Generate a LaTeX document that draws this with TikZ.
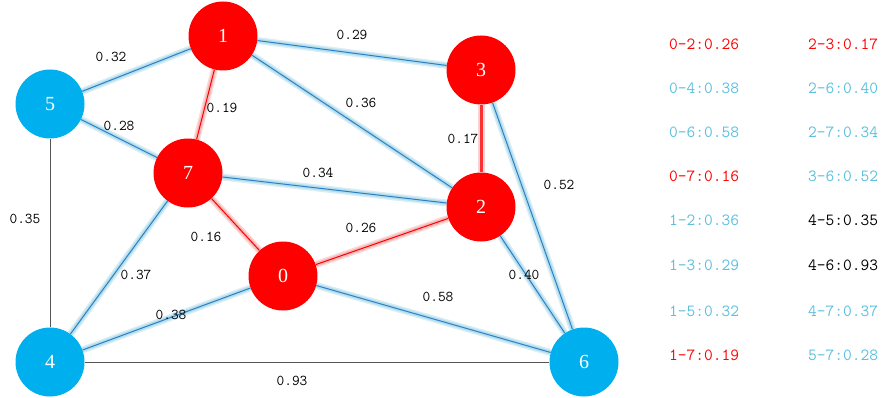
\documentclass[tikz,border=0pt]{standalone}
\usepackage{fontspec}
\setmainfont{Liberation Serif}
\usetikzlibrary{backgrounds}
\definecolor{nred}{HTML}{FF0000}
\definecolor{nblue}{HTML}{00B0EE}
\definecolor{eblue}{HTML}{2A80C4}
\definecolor{gblue}{HTML}{9ED3E6}
\definecolor{gred}{HTML}{F2A0A0}
\definecolor{lgblue}{HTML}{5BBFDE}
\definecolor{egray}{HTML}{555555}
\tikzset{
  vert/.style={circle, minimum size=69pt, inner sep=0pt, text=white, font=\fontsize{20}{20}\selectfont},
  rv/.style={vert, fill=nred},
  bv/.style={vert, fill=nblue},
  bedge/.style={draw=gblue, line width=7pt, opacity=0.4, postaction={draw=gblue, line width=4pt, opacity=0.6}, postaction={draw=eblue, line width=1pt, opacity=1}},
  redge/.style={draw=gred, line width=7pt, opacity=0.4, postaction={draw=gred, line width=4pt, opacity=0.6}, postaction={draw=nred, line width=1pt, opacity=1}},
  rthick/.style={draw=gred, line width=7pt, opacity=0.45, postaction={draw=nred!70!gred, line width=3pt, opacity=1}},
  gedge/.style={draw=egray, line width=1pt},
  wl/.style={font=\ttfamily\fontsize{15}{15}\selectfont, text=black, inner sep=0pt},
  lg/.style={font=\ttfamily\fontsize{17}{17}\selectfont, anchor=west, inner sep=0pt},
}
\begin{document}
\begin{tikzpicture}[x=1pt,y=-1pt]
\useasboundingbox (0,0) rectangle (893,398);
\node[rv] (n0) at (283,276) {0};
\node[rv] (n1) at (223,36) {1};
\node[rv] (n2) at (481,207) {2};
\node[rv] (n3) at (481,70) {3};
\node[bv] (n4) at (50,362) {4};
\node[bv] (n5) at (50,104) {5};
\node[bv] (n6) at (584,362) {6};
\node[rv] (n7) at (188,173) {7};
\begin{pgfonlayer}{background}
\path[redge] (n0) -- (n2);
\path[bedge] (n0) -- (n4);
\path[bedge] (n0) -- (n6);
\path[redge] (n0) -- (n7);
\path[bedge] (n1) -- (n2);
\path[bedge] (n1) -- (n3);
\path[bedge] (n1) -- (n5);
\path[redge] (n1) -- (n7);
\path[rthick] (n2) -- (n3);
\path[bedge] (n2) -- (n6);
\path[bedge] (n2) -- (n7);
\path[bedge] (n3) -- (n6);
\path[gedge] (n4) -- (n5);
\path[gedge] (n4) -- (n6);
\path[bedge] (n4) -- (n7);
\path[bedge] (n5) -- (n7);
\end{pgfonlayer}
\node[wl] (w15) at (111,57) {0.32};
\node[wl] (w13) at (352,35) {0.29};
\node[wl] (w17) at (222,108) {0.19};
\node[wl] (w57) at (119,126) {0.28};
\node[wl] (w12) at (361,103) {0.36};
\node[wl] (w23) at (463,139) {0.17};
\node[wl] (w27) at (318,173) {0.34};
\node[wl] (w36) at (559,185) {0.52};
\node[wl] (w45) at (25,219) {0.35};
\node[wl] (w07) at (206,237) {0.16};
\node[wl] (w02) at (361,228) {0.26};
\node[wl] (w47) at (136,275) {0.37};
\node[wl] (w26) at (524,275) {0.40};
\node[wl] (w06) at (438,297) {0.58};
\node[wl] (w04) at (171,315) {0.38};
\node[wl] (w46) at (292,381) {0.93};
% legend
\node[lg, text=nred] (l1) at (669,44) {0-2:0.26};
\node[lg, text=lgblue] (l2) at (669,88) {0-4:0.38};
\node[lg, text=lgblue] (l3) at (669,132) {0-6:0.58};
\node[lg, text=nred] (l4) at (669,176) {0-7:0.16};
\node[lg, text=lgblue] (l5) at (669,220) {1-2:0.36};
\node[lg, text=lgblue] (l6) at (669,265) {1-3:0.29};
\node[lg, text=lgblue] (l7) at (669,311) {1-5:0.32};
\node[lg, text=nred] (l8) at (669,355) {1-7:0.19};
\node[lg, text=nred] (r1) at (808,44) {2-3:0.17};
\node[lg, text=lgblue] (r2) at (808,88) {2-6:0.40};
\node[lg, text=lgblue] (r3) at (808,132) {2-7:0.34};
\node[lg, text=lgblue] (r4) at (808,176) {3-6:0.52};
\node[lg, text=black] (r5) at (808,220) {4-5:0.35};
\node[lg, text=black] (r6) at (808,265) {4-6:0.93};
\node[lg, text=lgblue] (r7) at (808,311) {4-7:0.37};
\node[lg, text=lgblue] (r8) at (808,355) {5-7:0.28};
\end{tikzpicture}
\end{document}
